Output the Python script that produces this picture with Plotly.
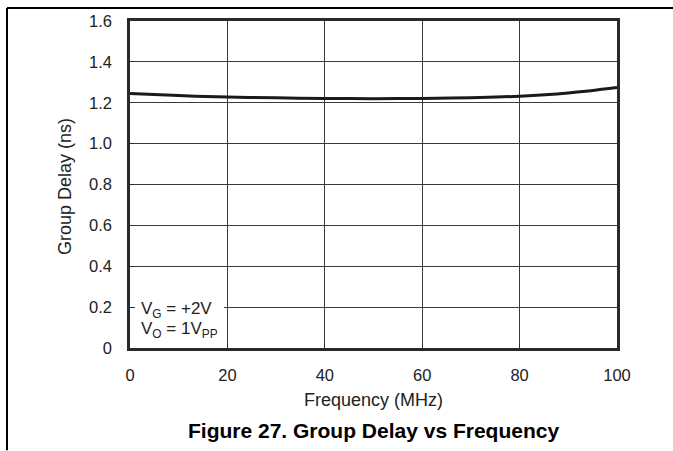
import plotly.graph_objects as go

freq_mhz = [0, 10, 20, 30, 40, 50, 60, 70, 80, 90, 100]
group_delay_ns = [1.245, 1.235, 1.228, 1.224, 1.221, 1.220, 1.221, 1.225, 1.232, 1.248, 1.275]
x_ticks = [0, 20, 40, 60, 80, 100]
y_ticks = [0, 0.2, 0.4, 0.6, 0.8, 1.0, 1.2, 1.4, 1.6]
y_tick_text = ["0", "0.2", "0.4", "0.6", "0.8", "1.0", "1.2", "1.4", "1.6"]

FONT = "Liberation Sans, Arial, Helvetica, sans-serif"

fig = go.Figure()
fig.add_trace(go.Scatter(
    x=freq_mhz, y=group_delay_ns, mode="lines",
    line=dict(color="#1a1a1a", width=3, shape="spline"),
    showlegend=False, hoverinfo="skip",
))

W, H = 673, 451
L, R, T, B = 130, 56, 19, 103
pw, ph = W - L - R, H - T - B

def px2paper_x(px):
    return (px - L) / pw

def px2paper_y(py):
    return (H - B - py) / ph

axis_common = dict(
    showgrid=True, gridcolor="#3a3a3a", gridwidth=1,
    showline=True, linecolor="#2a2a2a", linewidth=2.5, mirror=True,
    ticks="inside", ticklen=4, tickcolor="#2a2a2a",
    zeroline=False,
    tickfont=dict(family=FONT, size=16.5, color="#222"),
)

fig.update_layout(
    width=W, height=H,
    margin=dict(l=L, r=R, t=T, b=B),
    paper_bgcolor="white", plot_bgcolor="white",
    xaxis=dict(range=[0, 100], tickvals=x_ticks, ticklabelstandoff=10, **axis_common),
    yaxis=dict(range=[0, 1.6], tickvals=y_ticks, ticktext=y_tick_text, ticklabelstandoff=12, **axis_common),
    shapes=[
        dict(type="rect", xref="x", yref="y", x0=1.0, x1=19.3, y0=0.02, y1=0.32,
             fillcolor="white", line=dict(width=0), layer="between"),
        dict(type="line", xref="paper", yref="paper",
             x0=px2paper_x(7), x1=px2paper_x(673), y0=px2paper_y(6), y1=px2paper_y(6),
             line=dict(color="black", width=2)),
        dict(type="line", xref="paper", yref="paper",
             x0=px2paper_x(7), x1=px2paper_x(7), y0=px2paper_y(6), y1=px2paper_y(451),
             line=dict(color="black", width=2)),
    ],
    annotations=[
        dict(text="V<sub>G</sub> = +2V",
             xref="paper", yref="paper", x=px2paper_x(139), y=px2paper_y(310),
             xanchor="left", yanchor="middle", align="left", showarrow=False,
             font=dict(family=FONT, size=17, color="#222")),
        dict(text="V<sub>O</sub> = 1V<sub>PP</sub>",
             xref="paper", yref="paper", x=px2paper_x(139), y=px2paper_y(330),
             xanchor="left", yanchor="middle", align="left", showarrow=False,
             font=dict(family=FONT, size=17, color="#222")),
        dict(text="Frequency (MHz)",
             xref="paper", yref="paper", x=0.5, y=px2paper_y(400),
             xanchor="center", yanchor="middle", showarrow=False,
             font=dict(family=FONT, size=18, color="#222")),
        dict(text="Group Delay (ns)", textangle=-90,
             xref="paper", yref="paper", x=px2paper_x(65), y=px2paper_y(186),
             xanchor="center", yanchor="middle", showarrow=False,
             font=dict(family=FONT, size=18, color="#222")),
        dict(text="<b>Figure 27. Group Delay vs Frequency</b>",
             xref="paper", yref="paper", x=0.5, y=px2paper_y(431),
             xanchor="center", yanchor="middle", showarrow=False,
             font=dict(family=FONT, size=21, color="black")),
    ],
)

fig.write_html("out.html", config={"displayModeBar": False},
               post_script="document.body.style.margin='0px';")
